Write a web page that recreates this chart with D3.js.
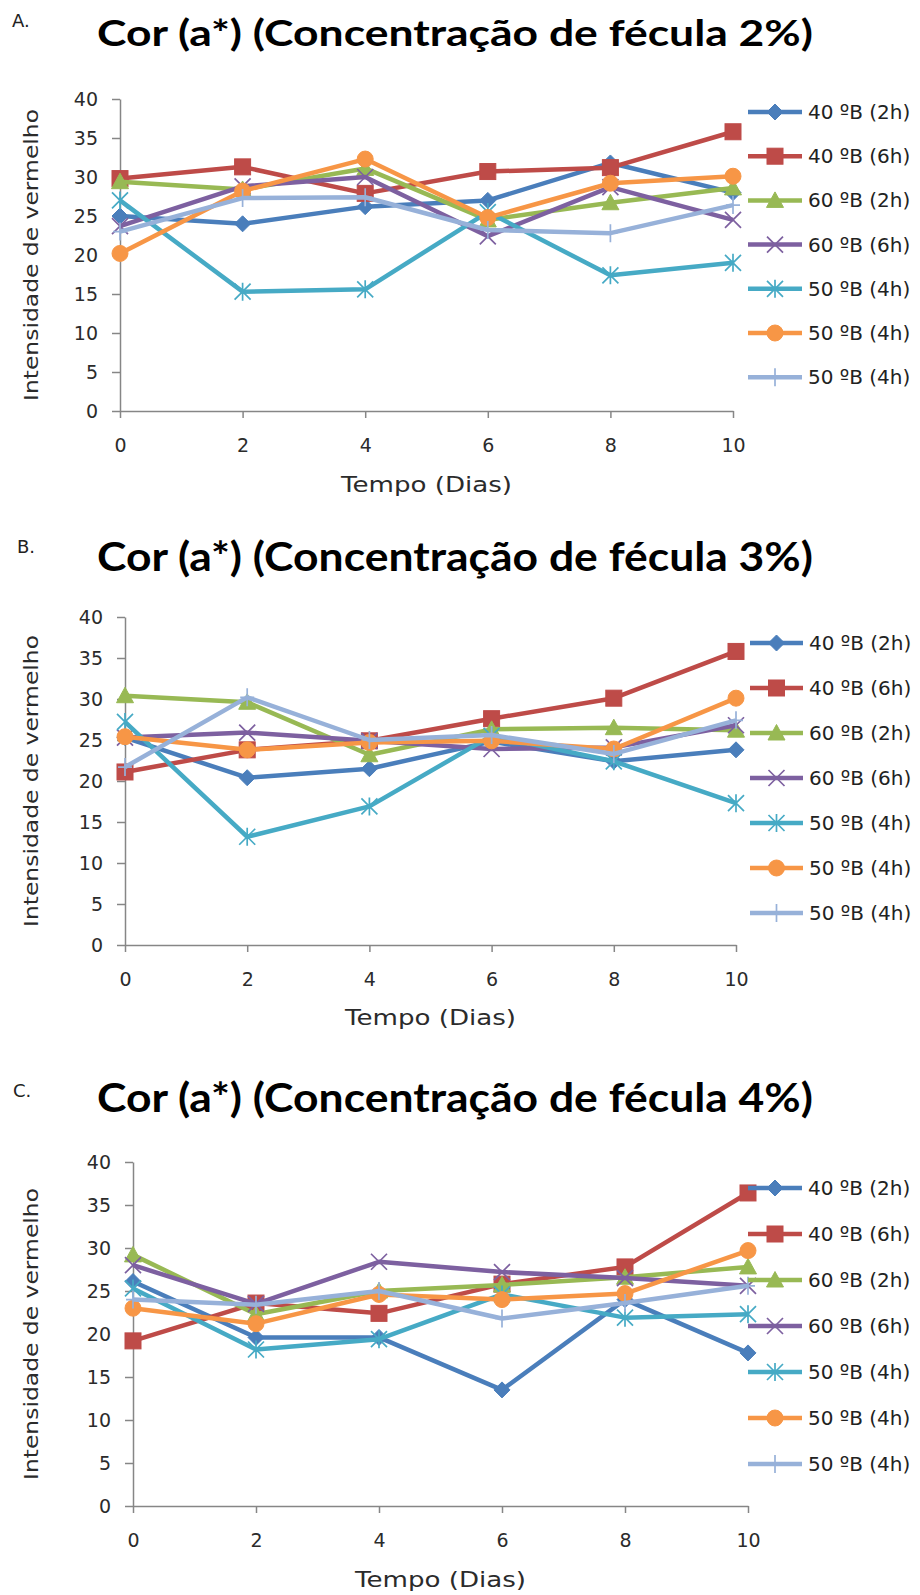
<!DOCTYPE html>
<html>
<head>
<meta charset="utf-8">
<script src="https://cdn.jsdelivr.net/npm/d3@7"></script>
<style>
  html, body { margin: 0; padding: 0; background: #fff; }
  svg { display: block; }
  .axis path, .axis line { stroke: #868686; stroke-width: 1.5; }
  .axis text { font-family: "DejaVu Sans", sans-serif; font-size: 19px; fill: #2b2b2b; }
</style>
</head>
<body>
<div id="chart"></div>
<script>
const days = [0, 2, 4, 6, 8, 10];
const yTicks = [0, 5, 10, 15, 20, 25, 30, 35, 40];
const seriesNames = ["40 ºB (2h)", "40 ºB (6h)", "60 ºB (2h)", "60 ºB (6h)", "50 ºB (4h)", "50 ºB (4h)", "50 ºB (4h)"];
const seriesColors = ["#4a7ebb", "#be4b48", "#98b954", "#7d60a0", "#46aac5", "#f79646", "#97b1d9"];
const seriesMarkers = ["diamond", "square", "triangle", "x", "star", "circle", "plus"];
const panelLetters = ["A.", "B.", "C."];
const panelTitles = [
  "Cor (a*) (Concentração de fécula 2%)",
  "Cor (a*) (Concentração de fécula 3%)",
  "Cor (a*) (Concentração de fécula 4%)"
];
const xTitle = "Tempo (Dias)";
const yTitle = "Intensidade de vermelho";

// values read per series, one row per series, columns = days
const valuesA = [
  [25.0, 24.0, 26.2, 27.0, 31.8, 28.0],
  [29.8, 31.3, 27.9, 30.7, 31.2, 35.8],
  [29.4, 28.4, 31.1, 24.5, 26.7, 28.6],
  [23.7, 28.8, 30.0, 22.4, 28.7, 24.5],
  [27.0, 15.3, 15.6, 25.5, 17.4, 19.0],
  [20.2, 28.2, 32.3, 24.8, 29.2, 30.1],
  [23.0, 27.3, 27.4, 23.2, 22.8, 26.4]
];
const valuesB = [
  [25.3, 20.4, 21.5, 24.8, 22.4, 23.8],
  [21.1, 23.8, 24.9, 27.6, 30.1, 35.8],
  [30.4, 29.6, 23.2, 26.3, 26.5, 26.2],
  [25.3, 25.9, 24.9, 23.9, 24.1, 26.8],
  [27.2, 13.2, 16.9, 25.5, 22.4, 17.3],
  [25.4, 23.8, 24.7, 24.9, 23.9, 30.1],
  [21.7, 30.2, 25.0, 25.6, 23.3, 27.4]
];
const valuesC = [
  [26.1, 19.6, 19.6, 13.5, 24.0, 17.8],
  [19.2, 23.6, 22.4, 25.8, 27.8, 36.4],
  [29.2, 22.3, 25.0, 25.7, 26.6, 27.8],
  [28.0, 23.5, 28.4, 27.2, 26.5, 25.6],
  [25.3, 18.2, 19.4, 24.6, 21.9, 22.3],
  [23.0, 21.2, 24.6, 24.0, 24.7, 29.7],
  [24.0, 23.4, 25.0, 21.8, 23.6, 25.6]
];
const panelValues = [valuesA, valuesB, valuesC];

// page layout of each panel
const layouts = [
  { x0: 120, x1: 733, yTop: 99, yBot: 411, titleY: 46, titleSize: 36, letterX: 12, letterY: 27,
    yTitleX: 31, xTitleY: 492, legX0: 748, legX1: 802, legTextX: 808, legY0: 112, legStep: 44.2 },
  { x0: 125, x1: 736, yTop: 617, yBot: 945, titleY: 571, titleSize: 40, letterX: 17, letterY: 553,
    yTitleX: 31, xTitleY: 1025, legX0: 750, legX1: 803, legTextX: 809, legY0: 643, legStep: 45 },
  { x0: 133, x1: 748, yTop: 1162, yBot: 1506, titleY: 1112, titleSize: 41, letterX: 13, letterY: 1097,
    yTitleX: 31, xTitleY: 1587, legX0: 748, legX1: 802, legTextX: 808, legY0: 1188, legStep: 46 }
];

const W = 920, H = 1595;
const svg = d3.select("#chart").append("svg")
  .attr("width", W).attr("height", H)
  .attr("viewBox", `0 0 ${W} ${H}`);

function drawMarker(sel, type, color) {
  if (type === "circle") {
    sel.append("circle").attr("r", 8).attr("fill", color).attr("stroke", color);
  } else if (type === "square") {
    sel.append("rect").attr("x", -8).attr("y", -8).attr("width", 16).attr("height", 16)
      .attr("fill", color).attr("stroke", color);
  } else if (type === "diamond") {
    sel.append("path").attr("d", "M0,-8L8,0L0,8L-8,0Z").attr("fill", color).attr("stroke", color);
  } else if (type === "triangle") {
    sel.append("path").attr("d", "M0,-8.5L8.5,7L-8.5,7Z").attr("fill", color).attr("stroke", color);
  } else {
    let d = "";
    if (type === "x" || type === "star") d += "M-8,-8L8,8M-8,8L8,-8";
    if (type === "star" || type === "plus") d += "M0,-9L0,9";
    if (type === "plus") d += "M-7,0L7,0";
    sel.append("path").attr("d", d).attr("fill", "none").attr("stroke", color).attr("stroke-width", 1.7);
  }
}

panelValues.forEach((values, p) => {
  const L = layouts[p];
  const g = svg.append("g");

  const x = d3.scaleLinear().domain([0, 10]).range([L.x0, L.x1]);
  const y = d3.scaleLinear().domain([0, 40]).range([L.yBot, L.yTop]);

  g.append("text")
    .attr("x", L.letterX).attr("y", L.letterY)
    .attr("font-family", "DejaVu Sans, sans-serif").attr("font-size", 18).attr("fill", "#222")
    .text(panelLetters[p]);

  g.append("text")
    .attr("x", 97).attr("y", L.titleY)
    .attr("font-family", "Lato, 'Open Sans', sans-serif").attr("font-weight", 700)
    .attr("font-size", L.titleSize).attr("fill", "#000")
    .attr("textLength", 716).attr("lengthAdjust", "spacingAndGlyphs")
    .text(panelTitles[p]);

  g.append("g")
    .attr("class", "axis")
    .attr("transform", `translate(${L.x0},0)`)
    .call(d3.axisLeft(y).tickValues(yTicks).tickSize(8).tickSizeOuter(0).tickPadding(14));

  g.append("g")
    .attr("class", "axis")
    .attr("transform", `translate(0,${L.yBot})`)
    .call(d3.axisBottom(x).tickValues(days).tickSize(7).tickSizeOuter(0).tickPadding(21));

  g.append("text")
    .attr("transform", `translate(${L.yTitleX},${(L.yTop + L.yBot) / 2}) rotate(-90)`)
    .attr("text-anchor", "middle").attr("dominant-baseline", "central")
    .attr("font-family", "DejaVu Sans, sans-serif").attr("font-size", 20).attr("fill", "#2b2b2b")
    .attr("textLength", 292).attr("lengthAdjust", "spacingAndGlyphs")
    .text(yTitle);

  g.append("text")
    .attr("x", (L.x0 + L.x1) / 2).attr("y", L.xTitleY)
    .attr("text-anchor", "middle")
    .attr("font-family", "DejaVu Sans, sans-serif").attr("font-size", 21).attr("fill", "#2b2b2b")
    .attr("textLength", 171).attr("lengthAdjust", "spacingAndGlyphs")
    .text(xTitle);

  const line = d3.line().x((d, i) => x(days[i])).y(d => y(d));

  values.forEach((vals, s) => {
    const color = seriesColors[s];
    g.append("path")
      .datum(vals)
      .attr("d", line)
      .attr("fill", "none")
      .attr("stroke", color)
      .attr("stroke-width", 4.5)
      .attr("stroke-linejoin", "round");
    g.selectAll(null)
      .data(vals)
      .join("g")
      .attr("transform", (d, i) => `translate(${x(days[i])},${y(d)})`)
      .each(function () { drawMarker(d3.select(this), seriesMarkers[s], color); });
  });

  // legend
  seriesNames.forEach((name, s) => {
    const ly = L.legY0 + s * L.legStep;
    const color = seriesColors[s];
    const lg = g.append("g");
    lg.append("line")
      .attr("x1", L.legX0).attr("x2", L.legX1).attr("y1", ly).attr("y2", ly)
      .attr("stroke", color).attr("stroke-width", 4.5);
    drawMarker(lg.append("g").attr("transform", `translate(${(L.legX0 + L.legX1) / 2},${ly})`),
      seriesMarkers[s], color);
    lg.append("text")
      .attr("x", L.legTextX).attr("y", ly)
      .attr("dominant-baseline", "central")
      .attr("font-family", "DejaVu Sans, sans-serif").attr("font-size", 20).attr("fill", "#222")
      .text(name);
  });
});
</script>
</body>
</html>
